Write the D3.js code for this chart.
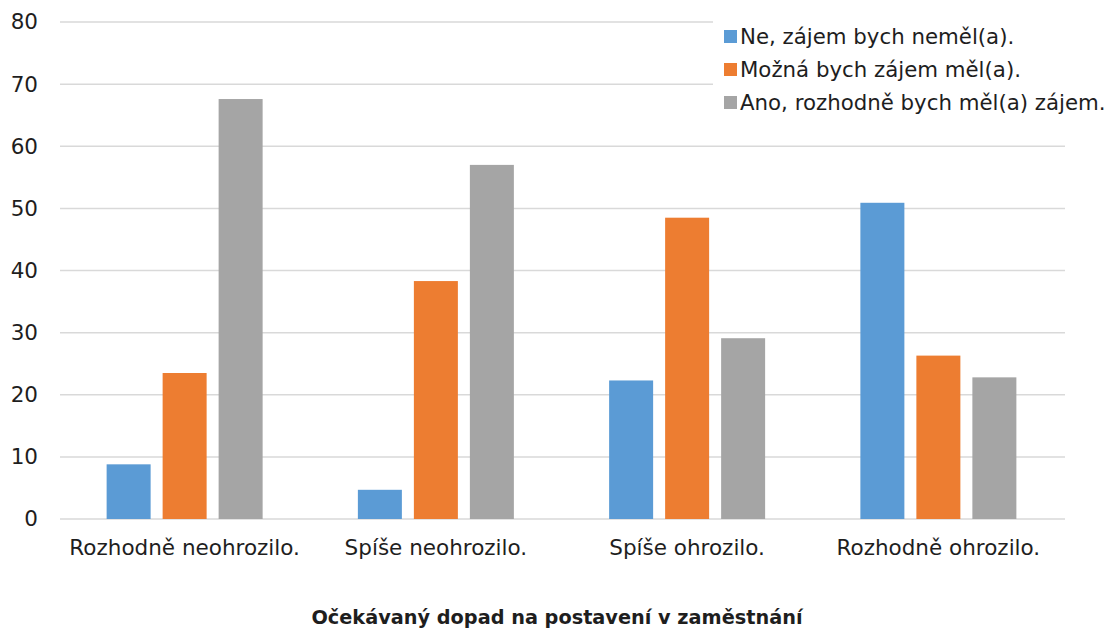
<!DOCTYPE html>
<html>
<head>
<meta charset="utf-8">
<script src="https://cdn.jsdelivr.net/npm/d3@7"></script>
<style>
  body { margin: 0; background: #fff; }
  text { font-family: "DejaVu Sans", Verdana, sans-serif; fill: #1e1e1e; }
</style>
</head>
<body>
<div id="chart"></div>
<script>
var categories = ['Rozhodně neohrozilo.', 'Spíše neohrozilo.', 'Spíše ohrozilo.', 'Rozhodně ohrozilo.'];
var seriesNames = ['Ne, zájem bych neměl(a).', 'Možná bych zájem měl(a).', 'Ano, rozhodně bych měl(a) zájem.'];
var neValues = [8.8, 4.7, 22.3, 50.9];
var moznaValues = [23.5, 38.3, 48.5, 26.3];
var anoValues = [67.6, 57.0, 29.1, 22.8];
var yTicks = [0, 10, 20, 30, 40, 50, 60, 70, 80];
var axisTitle = 'Očekávaný dopad na postavení v zaměstnání';

var width = 1115,
    height = 630;

var colors = ['#5b9bd5', '#ed7d31', '#a5a5a5'];
var series = [neValues, moznaValues, anoValues];
var fontFam = '"DejaVu Sans", Verdana, sans-serif';

var svg = d3.select('#chart').append('svg')
    .attr('width', width)
    .attr('height', height);

var x = d3.scaleBand()
    .domain(categories)
    .range([60, 1065]);

// bars inside a category: 44px wide, 12px apart
var xInner = d3.scaleBand()
    .domain(d3.range(seriesNames.length))
    .range([-79, 77])
    .paddingInner(12 / 56)
    .paddingOuter(0);

var y = d3.scaleLinear()
    .domain([0, 80])
    .range([519, 22]);

// gridlines
svg.append('g')
    .selectAll('line')
    .data(yTicks)
    .enter().append('line')
    .attr('x1', 60)
    .attr('x2', 1065)
    .attr('y1', function(d) { return y(d); })
    .attr('y2', function(d) { return y(d); })
    .attr('stroke', '#d9d9d9')
    .attr('stroke-width', 1.5);

// y labels
var yAxis = d3.axisLeft(y).tickValues(yTicks).tickSize(0).tickPadding(0);
svg.append('g')
    .attr('transform', 'translate(38,0)')
    .call(yAxis)
    .call(function(g) { g.select('.domain').remove(); })
    .selectAll('text')
    .attr('font-size', '21.5px')
    .attr('fill', '#1e1e1e')
    .style('font-family', fontFam);

// bars
var groups = svg.selectAll('.cat')
    .data(categories)
    .enter().append('g')
    .attr('class', 'cat')
    .attr('transform', function(d) { return 'translate(' + (x(d) + x.bandwidth() / 2) + ',0)'; });

groups.selectAll('rect')
    .data(function(d, i) { return series.map(function(s, k) { return {k: k, v: s[i]}; }); })
    .enter().append('rect')
    .attr('x', function(d) { return xInner(d.k); })
    .attr('width', xInner.bandwidth())
    .attr('y', function(d) { return y(d.v); })
    .attr('height', function(d) { return y(0) - y(d.v); })
    .attr('fill', function(d) { return colors[d.k]; });

// x labels
var xAxis = d3.axisBottom(x).tickSize(0).tickPadding(0);
svg.append('g')
    .attr('transform', 'translate(-1,0)')
    .call(xAxis)
    .call(function(g) { g.select('.domain').remove(); })
    .selectAll('text')
    .attr('y', 555)
    .attr('dy', null)
    .attr('font-size', '21.5px')
    .attr('fill', '#1e1e1e')
    .style('font-family', fontFam);

// axis title
svg.append('text')
    .attr('x', 557)
    .attr('y', 624)
    .attr('text-anchor', 'middle')
    .attr('font-size', '19.3px')
    .attr('font-weight', 'bold')
    .attr('fill', '#000')
    .text(axisTitle);

// legend
var legend = svg.append('g');
legend.append('rect')
    .attr('x', 713)
    .attr('y', 14)
    .attr('width', 402)
    .attr('height', 106)
    .attr('fill', '#fff');

var item = legend.selectAll('.item')
    .data(seriesNames)
    .enter().append('g')
    .attr('class', 'item')
    .attr('transform', function(d, i) { return 'translate(724,' + (36 + i * 33) + ')'; });

item.append('rect')
    .attr('x', 0)
    .attr('y', -6)
    .attr('width', 13)
    .attr('height', 13)
    .attr('fill', function(d, i) { return colors[i]; });

item.append('text')
    .attr('x', 16)
    .attr('y', 0)
    .attr('dy', '0.36em')
    .attr('font-size', '21.3px')
    .text(function(d) { return d; });
</script>
</body>
</html>
